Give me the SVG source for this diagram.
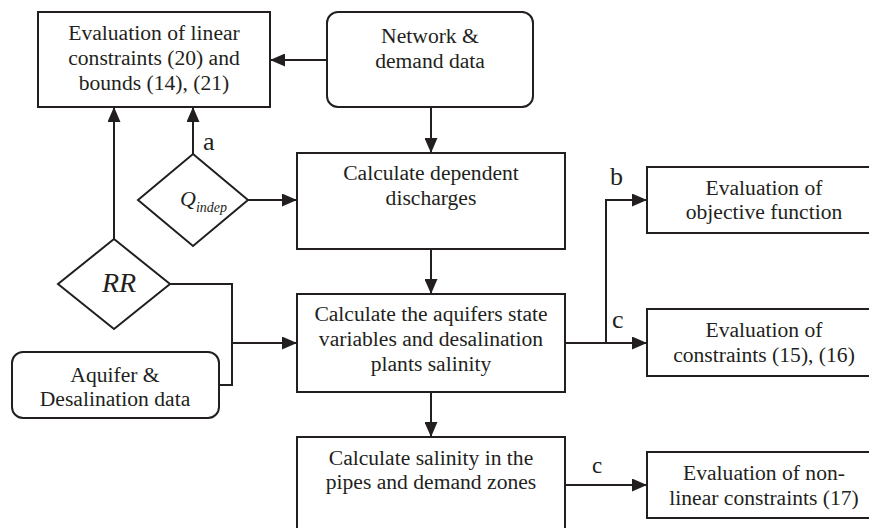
<svg xmlns="http://www.w3.org/2000/svg" width="869" height="528" viewBox="0 0 869 528">
<style>
.box{fill:#fff;stroke:#231f20;stroke-width:2}
.ln{fill:none;stroke:#231f20;stroke-width:2}
.t{font-family:'Liberation Serif','DejaVu Serif',serif;font-size:21.6px;fill:#231f20;text-anchor:middle}
.lbl{font-family:'Liberation Serif','DejaVu Serif',serif;font-size:26px;fill:#231f20}
.it{font-family:'Liberation Serif','DejaVu Serif',serif;font-style:italic;fill:#231f20}
</style>
<defs>
<marker id="ah" markerUnits="userSpaceOnUse" markerWidth="15" markerHeight="13" refX="15" refY="6.5" orient="auto">
<path d="M0,0 L15,6.5 L0,13 z" fill="#231f20"/>
</marker>
</defs>
<g id="connectors">
<line class="ln" x1="327" y1="60" x2="270" y2="60" marker-end="url(#ah)"/>
<line class="ln" x1="431" y1="107" x2="431" y2="153" marker-end="url(#ah)"/>
<line class="ln" x1="193" y1="154" x2="193" y2="107" marker-end="url(#ah)"/>
<line class="ln" x1="248" y1="200" x2="297" y2="200" marker-end="url(#ah)"/>
<line class="ln" x1="114" y1="239" x2="114" y2="107" marker-end="url(#ah)"/>
<polyline class="ln" points="170,284 232,284 232,385 219,385"/>
<line class="ln" x1="232" y1="343" x2="297" y2="343" marker-end="url(#ah)"/>
<line class="ln" x1="431" y1="249" x2="431" y2="294" marker-end="url(#ah)"/>
<line class="ln" x1="565" y1="343" x2="647" y2="343" marker-end="url(#ah)"/>
<polyline class="ln" points="606,343 606,200 647,200" marker-end="url(#ah)"/>
<line class="ln" x1="431" y1="392" x2="431" y2="437" marker-end="url(#ah)"/>
<line class="ln" x1="565" y1="485" x2="647" y2="485" marker-end="url(#ah)"/>
<text class="lbl" x="203" y="150">a</text>
<text class="lbl" x="610" y="185">b</text>
<text class="lbl" x="612" y="328">c</text>
<text class="lbl" x="592" y="473" style="font-size:23px">c</text>
</g>
<g id="linear-eval">
<rect class="box" x="38" y="12" width="232" height="95"/>
<text class="t" x="154" y="40">Evaluation of linear</text>
<text class="t" x="154" y="65">constraints (20) and</text>
<text class="t" x="154" y="90">bounds (14), (21)</text>
</g>
<g id="network-data">
<rect class="box" x="327" y="12" width="206" height="95" rx="11"/>
<text class="t" x="430" y="43">Network &amp;</text>
<text class="t" x="430" y="68">demand data</text>
</g>
<g id="q-indep">
<polygon class="box" points="193,154 248,200 193,246 138,200"/>
<text class="it" x="180" y="206" style="font-size:22px">Q<tspan dy="6" style="font-size:14px">indep</tspan></text>
</g>
<g id="dependent-discharges">
<rect class="box" x="297" y="153" width="268" height="96"/>
<text class="t" x="431" y="180">Calculate dependent</text>
<text class="t" x="431" y="205">discharges</text>
</g>
<g id="rr">
<polygon class="box" points="114,239 170,284 114,329 58,284"/>
<text class="it" x="119" y="292" style="font-size:28px;text-anchor:middle">RR</text>
</g>
<g id="aquifer-data">
<rect class="box" x="12" y="352" width="207" height="66" rx="11"/>
<text class="t" x="115" y="382">Aquifer &amp;</text>
<text class="t" x="115" y="406">Desalination data</text>
</g>
<g id="aquifer-state">
<rect class="box" x="297" y="294" width="268" height="98"/>
<text class="t" x="431" y="321">Calculate the aquifers state</text>
<text class="t" x="431" y="346">variables and desalination</text>
<text class="t" x="431" y="371">plants salinity</text>
</g>
<g id="objective">
<rect class="box" x="647" y="167" width="230" height="66"/>
<text class="t" x="764" y="195">Evaluation of</text>
<text class="t" x="764" y="219">objective function</text>
</g>
<g id="constraints-15-16">
<rect class="box" x="647" y="309" width="230" height="67"/>
<text class="t" x="764" y="337">Evaluation of</text>
<text class="t" x="764" y="362">constraints (15), (16)</text>
</g>
<g id="salinity-pipes">
<rect class="box" x="297" y="437" width="268" height="110"/>
<text class="t" x="431" y="465">Calculate salinity in the</text>
<text class="t" x="431" y="489">pipes and demand zones</text>
</g>
<g id="nonlinear">
<rect class="box" x="647" y="452" width="230" height="66"/>
<text class="t" x="764" y="480">Evaluation of non-</text>
<text class="t" x="764" y="505">linear constraints (17)</text>
</g>
</svg>
